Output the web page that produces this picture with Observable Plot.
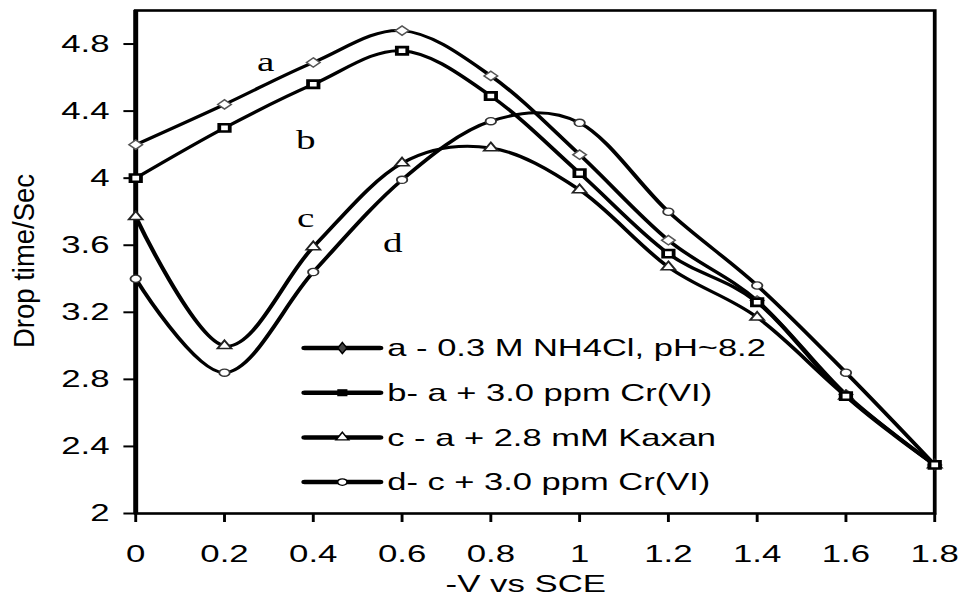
<!DOCTYPE html>
<html>
<head>
<meta charset="utf-8">
<script src="https://cdn.jsdelivr.net/npm/d3@7"></script>
<script src="https://cdn.jsdelivr.net/npm/@observablehq/plot@0.6"></script>
<style>
  html, body { margin: 0; padding: 0; background: #fff; }
  #chart { width: 962px; height: 603px; overflow: hidden; }
</style>
</head>
<body>
<div id="chart"></div>
<script>
// ---- data ----
const potential = [0, 0.2, 0.4, 0.6, 0.8, 1.0, 1.2, 1.4, 1.6, 1.8];
const seriesA = [4.20, 4.44, 4.69, 4.88, 4.61, 4.14, 3.63, 3.27, 2.71, 2.29];
const seriesB = [4.00, 4.30, 4.56, 4.76, 4.49, 4.03, 3.55, 3.26, 2.70, 2.29];
const seriesC = [3.77, 3.00, 3.59, 4.09, 4.18, 3.93, 3.47, 3.17, 2.70, 2.29];
const seriesD = [3.40, 2.84, 3.44, 3.99, 4.34, 4.33, 3.80, 3.36, 2.84, 2.29];
const seriesKeys = ["a", "b", "c", "d"];
const legendLabels = [
  "a - 0.3 M NH4Cl, pH~8.2",
  "b- a + 3.0 ppm Cr(VI)",
  "c - a + 2.8 mM Kaxan",
  "d- c + 3.0 ppm Cr(VI)"
];
const curveLabels = ["a", "b", "c", "d"];
const curveLabelX = [0.293, 0.383, 0.383, 0.579];
const curveLabelY = [4.69, 4.225, 3.76, 3.61];
const xTicks = [0, 0.2, 0.4, 0.6, 0.8, 1, 1.2, 1.4, 1.6, 1.8];
const yTicks = [2, 2.4, 2.8, 3.2, 3.6, 4, 4.4, 4.8];
const xTitle = "-V vs SCE";
const yTitle = "Drop time/Sec";

// ---- build table ----
const values = {a: seriesA, b: seriesB, c: seriesC, d: seriesD};
const rows = seriesKeys.flatMap(k => potential.map((x, i) => ({series: k, x, y: values[k][i]})));
const annot = curveLabels.map((t, i) => ({t, x: curveLabelX[i], y: curveLabelY[i]}));

// ---- styles ----
const S = 1.45;            // horizontal stretch of the original figure
const W = 962 / S, H = 603;
const FONT = "Liberation Sans, Arial, sans-serif";
const markerStyle = {
  a: {symbol: "diamond2", r: 4.2, stroke: "#555", strokeWidth: 1.3, fill: "white"},
  d: {symbol: "circle", r: 3.6, stroke: "#333", strokeWidth: 1.3, fill: "white"},
  c: {symbol: "triangle2", r: 4.6, stroke: "#222", strokeWidth: 1.5, fill: "white"},
  b: {symbol: "square2", r: 4.6, stroke: "black", strokeWidth: 2.6, fill: "white"}
};
const fmt = d => String(+(+d).toFixed(1));

const plot = Plot.plot({
  width: W,
  height: H,
  marginLeft: 135 / S,
  marginRight: 28 / S,
  marginTop: 10,
  marginBottom: 90,
  style: {fontFamily: FONT, background: "white", color: "black"},
  x: {domain: [0, 1.8]},
  y: {domain: [2, 5]},
  marks: [
    Plot.axisY({ticks: yTicks, tickFormat: fmt, tickSize: 8, tickPadding: 10, fontSize: 24, strokeWidth: 2, label: null}),
    Plot.axisX({ticks: xTicks, tickFormat: fmt, tickSize: 9, tickPadding: 22, fontSize: 24, strokeWidth: 2, label: null}),
    Plot.frame({strokeWidth: 2.6}),
    Plot.ruleX([0], {strokeWidth: 3.4}),
    Plot.line(rows, {x: "x", y: "y", z: "series", curve: "cardinal", stroke: "black", strokeWidth: 3}),
    ...["a", "d", "c", "b"].map(k =>
      Plot.dot(rows.filter(r => r.series === k), {x: "x", y: "y", ...markerStyle[k]})
    ),
    Plot.text(annot, {x: "x", y: "y", text: "t", fontFamily: "Liberation Serif, Times New Roman, serif", fontSize: 27, fill: "black"}),
    Plot.text([xTitle], {frameAnchor: "bottom", textAnchor: "middle", lineAnchor: "middle", dx: -6.5, dy: 71, fontSize: 24, fill: "black"}),
    Plot.text([yTitle], {frameAnchor: "left", textAnchor: "middle", lineAnchor: "middle", dx: -77, dy: -1, rotate: -90, fontSize: 27.5, fill: "black"})
  ]
});

// condense the rotated y title across its lines (the original is narrow)
d3.select(plot).selectAll("text").filter(function () { return this.textContent === yTitle; })
  .each(function () {
    const t = this.getAttribute("transform") || "";
    this.setAttribute("transform", t + " scale(1,0.74)");
  });

// ---- legend (inside the frame, lower middle) ----
const svg = d3.select(plot);
const fx0 = 135 / S, fy1 = H - 90;
const legend = svg.append("g").attr("font-family", FONT).attr("font-size", 23.8).attr("text-anchor", "start");
const symbolFor = {a: d3.symbolDiamond, b: d3.symbolSquare, c: d3.symbolTriangle, d: d3.symbolCircle};
legendLabels.forEach((label, i) => {
  const y = fy1 - 165 + i * 44.7;
  const x1 = fx0 + 117, x2 = fx0 + 169;
  legend.append("line").attr("x1", x1).attr("x2", x2).attr("y1", y).attr("y2", y)
    .attr("stroke", "black").attr("stroke-width", 4.5).attr("stroke-linecap", "round");
  const k = seriesKeys[i];
  legend.append("path").attr("d", d3.symbol(symbolFor[k], 34)())
    .attr("transform", `translate(${(x1 + x2) / 2},${y})`)
    .attr("fill", k === "b" ? "black" : (k === "a" ? "#444" : "white"))
    .attr("stroke", "black").attr("stroke-width", 1.2);
  legend.append("text").attr("x", fx0 + 174).attr("y", y).attr("dy", "0.35em")
    .attr("text-anchor", "start").attr("fill", "black").text(label);
});

// stretch horizontally like the original figure
plot.setAttribute("width", 962);
plot.setAttribute("height", H);
plot.setAttribute("viewBox", `0 0 ${W} ${H}`);
plot.setAttribute("preserveAspectRatio", "none");
plot.style.width = "962px";
plot.style.height = "603px";
plot.style.maxWidth = "none";
document.getElementById("chart").appendChild(plot);
</script>
</body>
</html>
